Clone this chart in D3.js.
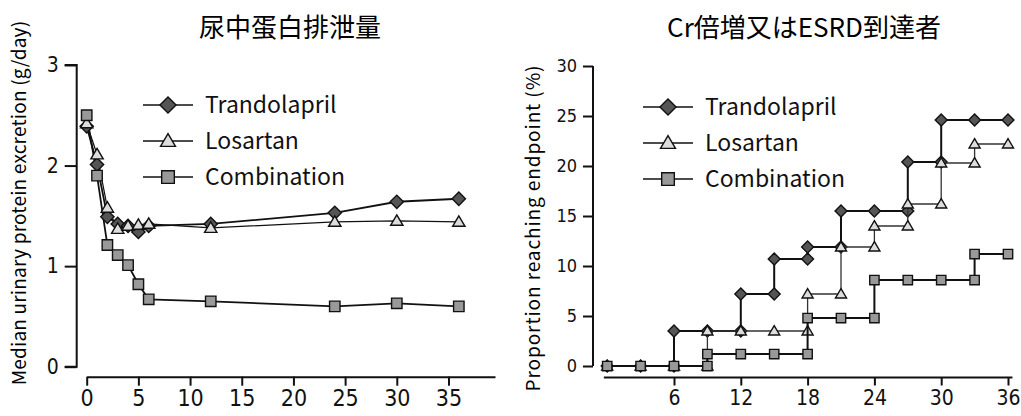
<!DOCTYPE html>
<html>
<head>
<meta charset="utf-8">
<script src="https://cdn.jsdelivr.net/npm/d3@7"></script>
<style>
  body { margin: 0; background: #fff; }
  svg { display: block; }
  .tick text { font-family: "Liberation Sans Narrow", "DejaVu Sans Condensed", "Roboto", sans-serif; }
</style>
</head>
<body>
<div id="chart"></div>
<script>
// left panel: median urinary protein excretion
const months = [0, 1, 2, 3, 4, 5, 6, 12, 24, 30, 36];
const protTrandolapril = [2.39, 2.01, 1.49, 1.42, 1.40, 1.34, 1.40, 1.42, 1.53, 1.64, 1.67];
const protLosartan = [2.42, 2.11, 1.58, 1.37, 1.40, 1.41, 1.42, 1.38, 1.44, 1.45, 1.44];
const protCombination = [2.50, 1.90, 1.21, 1.11, 1.01, 0.82, 0.67, 0.65, 0.60, 0.63, 0.60];
const leftXTicks = [0, 5, 10, 15, 20, 25, 30, 35];
const leftYTicks = [0, 1, 2, 3];

// right panel: doubling of Cr or ESRD (step curves)
const stepMonths = [0, 3, 6, 9, 12, 15, 18, 21, 24, 27, 30, 33, 36];
const endTrandolapril = [0, 0, 3.5, 3.5, 7.2, 10.7, 11.9, 15.5, 15.5, 20.4, 24.6, 24.6, 24.6];
const endLosartan = [0, 0, 0, 3.5, 3.5, 3.5, 7.2, 11.9, 14.0, 16.2, 20.3, 22.2, 22.2];
const endCombination = [0, 0, 0, 1.2, 1.2, 1.2, 4.8, 4.8, 8.6, 8.6, 8.6, 11.2, 11.2];
const rightXTicks = [6, 12, 18, 24, 30, 36];
const rightYTicks = [0, 5, 10, 15, 20, 25, 30];

const seriesNames = ["Trandolapril", "Losartan", "Combination"];
const seriesShapes = ["diamond", "triangle", "square"];

const W = 1021, H = 416;
const svg = d3.select("#chart").append("svg")
  .attr("width", W).attr("height", H)
  .attr("viewBox", `0 0 ${W} ${H}`);

const fills = { diamond: "#555", triangle: "#ddd", square: "#999" };
const textFont = "'Noto Sans CJK JP', 'Noto Sans', sans-serif";

function shapePath(kind, r) {
  if (kind === "diamond") return `M0,${-r}L${r},0L0,${r}L${-r},0Z`;
  if (kind === "square") return `M${-r},${-r}H${r}V${r}H${-r}Z`;
  const h = r * 1.7;
  return `M0,${-h * 0.58}L${r},${h * 0.42}L${-r},${h * 0.42}Z`;
}
const sizes = { diamond: 7, triangle: 6.5, square: 5.5 };

function drawMarkers(g, pts, kind, scale) {
  g.selectAll(null).data(pts).enter().append("path")
    .attr("transform", d => `translate(${d[0]},${d[1]})`)
    .attr("d", shapePath(kind, sizes[kind] * scale))
    .attr("fill", fills[kind])
    .attr("stroke", "#111")
    .attr("stroke-width", 1.4);
}

function drawLegend(g, x0, y0) {
  seriesNames.forEach((name, i) => {
    const y = y0 + i * 36;
    g.append("line")
      .attr("x1", x0).attr("x2", x0 + 50)
      .attr("y1", y).attr("y2", y)
      .attr("stroke", "#111").attr("stroke-width", 1.6);
    drawMarkers(g, [[x0 + 25, y]], seriesShapes[i], 1.15);
    g.append("text")
      .attr("x", x0 + 62).attr("y", y + 8)
      .attr("font-family", textFont)
      .attr("font-size", 23)
      .attr("fill", "#111")
      .text(name);
  });
}

function styleAxis(sel, fontSize) {
  sel.select(".domain").attr("stroke", "#111").attr("stroke-width", 2);
  sel.selectAll(".tick line").attr("stroke", "#111").attr("stroke-width", 2);
  sel.selectAll(".tick text").attr("font-size", fontSize).attr("fill", "#111");
}

// ---------- left panel ----------
{
  const g = svg.append("g");
  const x = d3.scaleLinear().domain([0, 39.5]).range([86.7, 495]);
  const y = d3.scaleLinear().domain([0, 3]).range([366.7, 65]);

  g.append("text")
    .attr("x", 290).attr("y", 37)
    .attr("text-anchor", "middle")
    .attr("font-family", textFont)
    .attr("font-size", 26)
    .text("尿中蛋白排泄量");

  const yAxis = g.append("g").attr("transform", "translate(76.7,0)")
    .call(d3.axisLeft(y).tickValues(leftYTicks).tickSize(12).tickPadding(6).tickFormat(d3.format("d")));
  yAxis.select(".domain").attr("d", `M-12,${y(3)}H0V${y(0)}H-12`);
  styleAxis(yAxis, 21);

  const xAxis = g.append("g").attr("transform", "translate(0,376.7)")
    .call(d3.axisBottom(x).tickValues(leftXTicks).tickSize(9).tickPadding(4).tickSizeOuter(0));
  styleAxis(xAxis, 23);

  g.append("text")
    .attr("transform", "translate(26,203) rotate(-90)")
    .attr("text-anchor", "middle")
    .attr("font-family", textFont)
    .attr("font-size", 19)
    .attr("letter-spacing", 0.2)
    .text("Median urinary protein excretion (g/day)");

  drawLegend(g, 143, 105);

  const series = [protTrandolapril, protLosartan, protCombination];
  const widths = [1.8, 1.2, 1.8];
  const line = d3.line().x(d => x(d[0])).y(d => y(d[1]));
  series.forEach((vals, i) => {
    const pts = months.map((m, j) => [m, vals[j]]);
    g.append("path").attr("d", line(pts))
      .attr("fill", "none").attr("stroke", "#111").attr("stroke-width", widths[i]);
  });
  series.forEach((vals, i) => {
    const pts = months.map((m, j) => [x(m), y(vals[j])]);
    drawMarkers(g, pts, seriesShapes[i], 0.95);
  });
}

// ---------- right panel ----------
{
  const g = svg.append("g");
  const x = d3.scaleLinear().domain([0, 36]).range([607.2, 1008]);
  const y = d3.scaleLinear().domain([0, 30]).range([366, 66]);

  g.append("text")
    .attr("x", 804).attr("y", 37)
    .attr("text-anchor", "middle")
    .attr("font-family", textFont)
    .attr("font-size", 26)
    .text("Cr倍増又はESRD到達者");

  const yAxis = g.append("g").attr("transform", "translate(593,0)")
    .call(d3.axisLeft(y).tickValues(rightYTicks).tickSize(10).tickPadding(6));
  yAxis.select(".domain").attr("d", `M0,${y(30)}V${y(0)}`);
  styleAxis(yAxis, 18);

  const xAxis = g.append("g").attr("transform", "translate(0,377.5)")
    .call(d3.axisBottom(x).tickValues(rightXTicks).tickSize(8).tickPadding(5).tickSizeOuter(0));
  xAxis.select(".domain").attr("d", `M${x(-0.3)},0H${x(36.4)}`);
  styleAxis(xAxis, 21);

  g.append("text")
    .attr("transform", "translate(540,228) rotate(-90)")
    .attr("text-anchor", "middle")
    .attr("font-family", textFont)
    .attr("font-size", 19)
    .attr("letter-spacing", 0.9)
    .text("Proportion reaching endpoint (%)");

  drawLegend(g, 643, 107);

  const series = [endTrandolapril, endLosartan, endCombination];
  const strokes = ["#111", "#333", "#111"];
  const widths = [2, 1.3, 2];
  const line = d3.line().x(d => x(d[0])).y(d => y(d[1])).curve(d3.curveStepAfter);
  series.forEach((vals, i) => {
    const pts = stepMonths.map((m, j) => [m, vals[j]]);
    g.append("path").attr("d", line(pts))
      .attr("fill", "none").attr("stroke", strokes[i]).attr("stroke-width", widths[i]);
    // markers at each visit, plus the level before a jump
    const marks = [];
    stepMonths.forEach((m, j) => {
      if (j > 0 && vals[j - 1] !== vals[j]) marks.push([x(m), y(vals[j - 1])]);
      marks.push([x(m), y(vals[j])]);
    });
    drawMarkers(g, marks, seriesShapes[i], 0.85);
  });
}
</script>
</body>
</html>
